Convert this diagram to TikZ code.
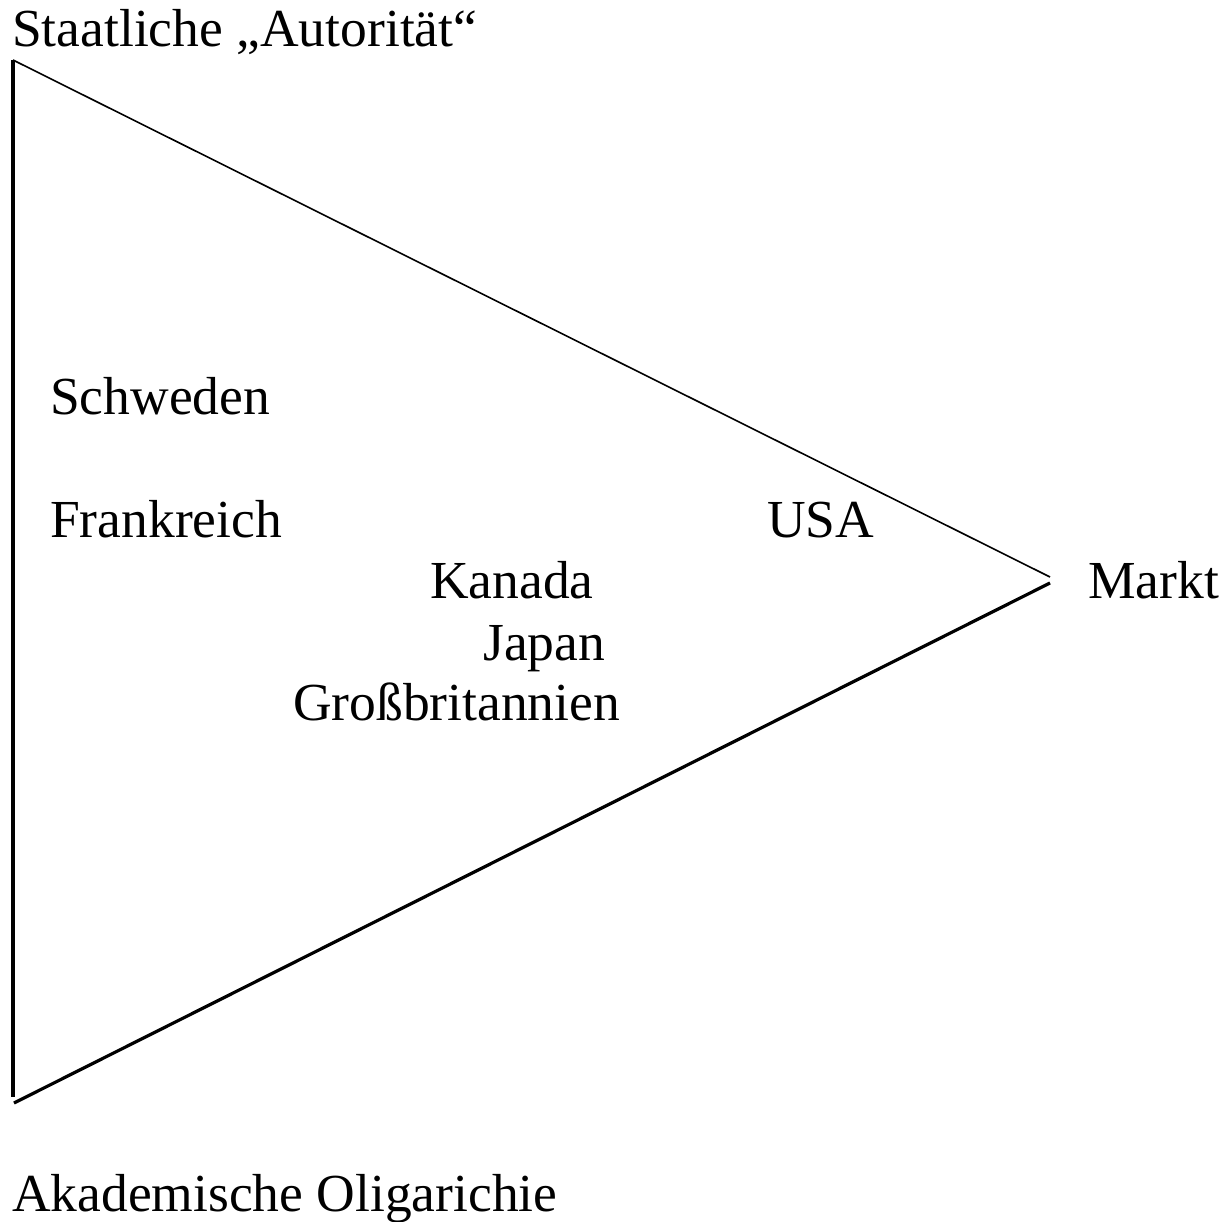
\documentclass[tikz,border=0pt]{standalone}
\usepackage{fontspec}
\setmainfont{Liberation Serif}
\begin{document}
\begin{tikzpicture}[x=1pt,y=-1pt,
  lbl/.style={anchor=base west,inner sep=0pt,font=\fontsize{53.5}{60}\selectfont},
  thin edge/.style={line width=1.6pt},
  thick edge/.style={line width=3.2pt}]
\useasboundingbox (0,0) rectangle (1232,1222);
\coordinate (top) at (13,60);
\coordinate (lefbot) at (13,1097);
\coordinate (botstart) at (14,1103);
\coordinate (mtop) at (1050,577);
\coordinate (mbot) at (1050,583);
\draw[thick edge] (top) -- (lefbot);
\draw[thin edge] (top) -- (mtop);
\draw[thick edge] (botstart) -- (mbot);
\node[lbl] (staat) at (12,47) {Staatliche „Autorität“};
\node[lbl] (schweden) at (50,415) {Schweden};
\node[lbl] (frank) at (50,537) {Frankreich};
\node[lbl] (usa) at (767,537) {USA};
\node[lbl] (kanada) at (430,598) {Kanada};
\node[lbl] (japan) at (483,660) {Japan};
\node[lbl] (gb) at (293,720) {Großbritannien};
\node[lbl] (markt) at (1088,598) {Markt};
\node[lbl] (akad) at (12,1211) {Akademische Oligarichie};
\end{tikzpicture}
\end{document}
